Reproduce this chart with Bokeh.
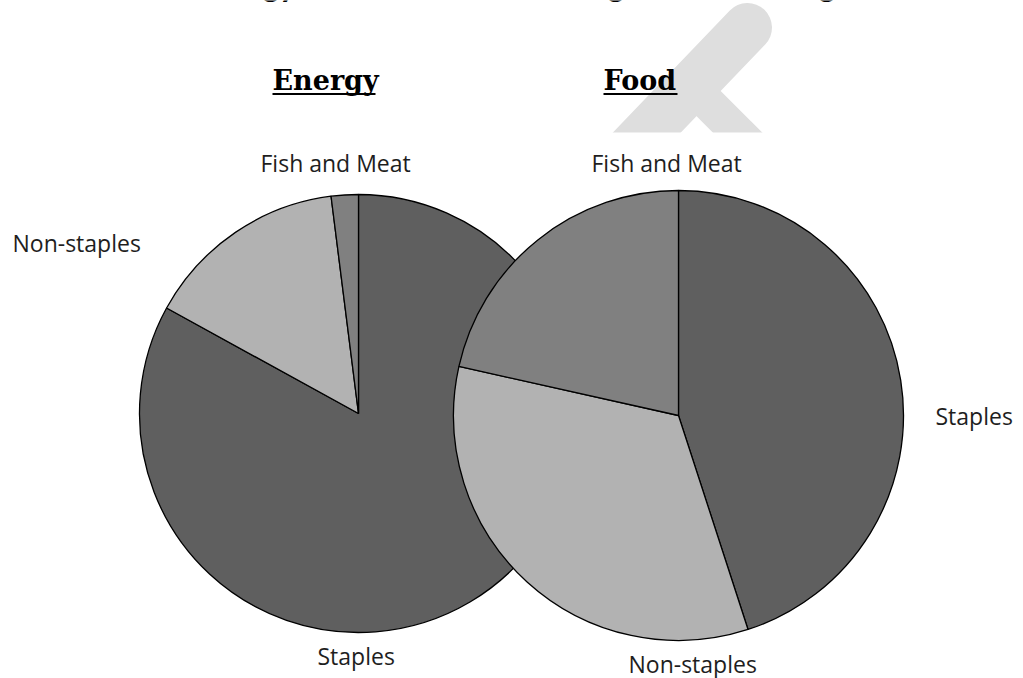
import numpy as np
from bokeh.plotting import figure
from bokeh.models import ColumnDataSource, Range1d
from bokeh.core.properties import value
from bokeh.embed import file_html
from bokeh.resources import INLINE

W, H = 1023, 678

# shares (%) of each food group
categories = ["Staples", "Non-staples", "Fish and Meat"]
energy_share = [83.0, 15.0, 2.0]
food_share = [45.0, 33.5, 21.5]
slice_colors = ["#5f5f5f", "#b2b2b2", "#808080"]

title = "2: Share of the energy sources and food budget across categories"


def Y(y_px):
    """Convert a top-down pixel offset into the plot's upward y coordinate."""
    return H - y_px


p = figure(width=W, height=H, x_range=Range1d(0, W), y_range=Range1d(0, H),
           output_backend="svg", toolbar_location=None, min_border=0,
           x_axis_location=None, y_axis_location=None)
p.grid.visible = False
p.outline_line_color = None
p.background_fill_color = "white"
p.border_fill_color = "white"

# faint watermark strokes behind the chart
p.line([747, 609], [Y(27), Y(171)], line_width=49, line_color="#dedede", line_cap="round")
p.line([690, 800], [Y(85), Y(195)], line_width=35, line_color="#dedede", line_cap="butt")
p.quad(left=0, right=W, top=Y(132), bottom=0, fill_color="white", line_color=None)

# caption running off the top edge
p.text(x=[-16], y=[Y(-16)], text=[title], text_font=value("Lato"), text_font_style="bold",
       text_font_size="32px", text_color="black", text_baseline="alphabetic", text_align="left")


def pie(cx, cy, r, shares):
    frac = np.asarray(shares, dtype=float) / sum(shares)
    cum = np.concatenate([[0.0], np.cumsum(frac)])
    src = ColumnDataSource(dict(
        start=np.pi / 2 - 2 * np.pi * cum[1:],
        end=np.pi / 2 - 2 * np.pi * cum[:-1],
        color=slice_colors,
        cat=categories,
    ))
    p.wedge(x=cx, y=cy, radius=r, start_angle="start", end_angle="end",
            fill_color="color", line_color="black", line_width=1.3, source=src)


pie(358, Y(413), 219, energy_share)
pie(678, Y(415), 225, food_share)

# panel headings, underlined
heading_font = value("DejaVu Serif")
p.text(x=[272, 603], y=[Y(80), Y(80)], text=["Energy", "Food"], text_font=heading_font,
       text_font_style="bold", text_font_size="27px", text_color="black",
       text_baseline="alphabetic", text_align="left")
p.segment(x0=[272, 603], y0=[Y(93.5), Y(93.5)], x1=[375, 677], y1=[Y(93.5), Y(93.5)],
          line_color="black", line_width=2)

# slice labels
lab_x = [260, 591, 12, 935, 317, 628]
lab_y = [162, 162, 242, 415, 655, 663]
lab_t = ["Fish and Meat", "Fish and Meat", "Non-staples", "Staples", "Staples", "Non-staples"]
p.text(x=lab_x, y=[Y(v) for v in lab_y], text=lab_t, text_font=value("Open Sans"),
       text_font_size="23px", text_color="#1e1e1e", text_baseline="alphabetic",
       text_align="left")

open("out.html", "w").write(file_html(p, INLINE))
